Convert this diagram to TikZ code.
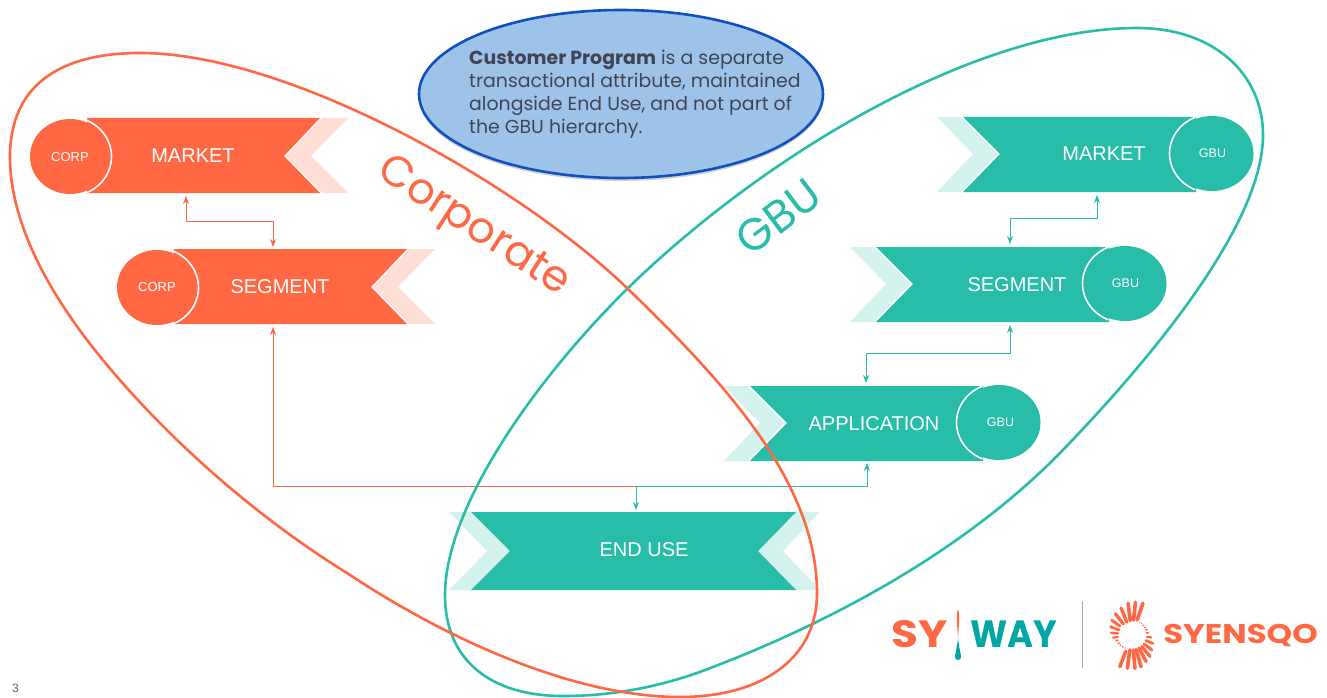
\documentclass[tikz,border=0pt]{standalone}
\usepackage{fontspec}
\setmainfont{Liberation Sans}
\newfontfamily\pop{Poppins}
\usetikzlibrary{arrows.meta,shadows,shapes.geometric}
\definecolor{corp}{HTML}{FF6843}
\definecolor{corplt}{HTML}{FFDED6}
\definecolor{gbu}{HTML}{27BDA9}
\definecolor{gbult}{HTML}{D4F2EE}
\definecolor{ovalfill}{HTML}{9DC3E8}
\definecolor{ovaldraw}{HTML}{1050C0}
\definecolor{inktext}{HTML}{404554}
\definecolor{wayteal}{HTML}{00A7A5}
\tikzset{
 x=1pt,y=-1pt,
 lab/.style={text=white,font=\fontsize{20}{24}\selectfont,inner sep=0pt},
 tag/.style={text=white,font=\fontsize{13}{15}\selectfont,inner sep=0pt},
 tagg/.style={text=white,font=\fontsize{12.5}{15}\selectfont,inner sep=0pt},
 link/.style={line width=1pt,{Stealth[length=8pt,width=6pt]}-{Stealth[length=8pt,width=6pt]}},
 plain/.style={line width=1pt},
 big/.style={line width=2.6pt},
}
\newcommand{\ribR}[2]{%
 \fill[corplt] (#1+235,#2) -- (#1+261,#2) -- (#1+224,#2+38) -- (#1+261,#2+75) -- (#1+235,#2+75) -- (#1+199,#2+38) -- cycle;
 \fill[corp] (#1,#2) -- (#1+233,#2) -- (#1+197,#2+38) -- (#1+233,#2+75) -- (#1,#2+75) -- cycle;
 \fill[corp] (#1-17,#2+38.5) ellipse [x radius=40,y radius=37.5];
 \draw[white,line width=1.6pt] ({#1-17+41.5*cos(66)},{#2+38.5-39.5*sin(66)}) arc [start angle=66,end angle=-66,x radius=41.5,y radius=-39.5];
}
\newcommand{\ribL}[2]{%
 \fill[gbult] (#1-2,#2) -- (#1-26,#2) -- (#1+10,#2+37) -- (#1-26,#2+75) -- (#1-2,#2+75) -- (#1+34,#2+37) -- cycle;
 \fill[gbu] (#1,#2) -- (#1+233,#2) -- (#1+233,#2+75) -- (#1,#2+75) -- (#1+37,#2+37) -- cycle;
 \fill[gbu] (#1+249,#2+36.5) ellipse [x radius=41.5,y radius=37.5];
 \draw[white,line width=1.6pt] ({#1+249+42.5*cos(113)},{#2+36.5-39.5*sin(113)}) arc [start angle=113,end angle=247,x radius=42.5,y radius=-39.5];
}
\begin{document}
\begin{tikzpicture}
\useasboundingbox (0,0) rectangle (1327,698);
\fill[white] (0,0) rectangle (1327,698);
% ribbons
\ribR{87}{118}
\ribR{174}{249}
\ribL{963}{117}
\ribL{876}{247}
\ribL{750}{386}
% end use
\fill[gbult] (449,512) -- (473,512) -- (511,551) -- (473,590) -- (449,590) -- (487,551) -- cycle;
\fill[gbult] (820,512) -- (796,512) -- (758,551) -- (796,590) -- (820,590) -- (783,551) -- cycle;
\fill[gbu] (471,512) -- (796,512) -- (758,551) -- (796,590) -- (471,590) -- (510,551) -- cycle;
% named nodes
\node[lab] (cmarket) at (193,155.5) {MARKET};
\node[tag] (ccorp1) at (70,157) {CORP};
\node[lab] (csegment) at (280,286.5) {SEGMENT};
\node[tag] (ccorp2) at (157,287) {CORP};
\node[lab] (gmarket) at (1104,154) {MARKET};
\node[tagg] (ggbu1) at (1212.5,153.5) {GBU};
\node[lab] (gsegment) at (1017,284.5) {SEGMENT};
\node[tagg] (ggbu2) at (1125.5,283.5) {GBU};
\node[lab] (gapp) at (874,423.5) {APPLICATION};
\node[tagg] (ggbu3) at (1000.5,422.5) {GBU};
\node[lab] (enduse) at (644,549.5) {END USE};
% ports
\coordinate (p1a) at (186,196); \coordinate (p1b) at (273,247);
\coordinate (p2a) at (1097,195); \coordinate (p2b) at (1010,244);
\coordinate (p3a) at (1010,325); \coordinate (p3b) at (866,383);
\coordinate (p4a) at (867,463); \coordinate (p4b) at (636,510);
\coordinate (p5a) at (273,327); \coordinate (p5b) at (636,486.5);
% connectors
\draw[link,corp] (p1a) |- (273,221) -- (p1b);
\draw[link,gbu] (p2a) |- (1010,218) -- (p2b);
\draw[link,gbu] (p3a) |- (866,353) -- (p3b);
\draw[plain,corp,{Stealth[length=8pt,width=6pt]}-] (p5a) |- (p5b);
\draw[link,gbu] (p4a) |- (p5b) -- (p4b);
% big outlines
\draw[big,gbu] (1137,28) .. controls (1215,28) and (1263,75) .. (1263,135)
 .. controls (1263,225) and (1150,360) .. (1060,453)
 .. controls (950,565) and (800,635) .. (697,673)
 .. controls (645,691) and (600,696) .. (563,696)
 .. controls (490,696) and (445,660) .. (445,595)
 .. controls (445,510) and (530,385) .. (628,288)
 .. controls (770,150) and (980,28) .. (1137,28) -- cycle;
\draw[big,corp] (140,53) .. controls (290,53) and (520,185) .. (627,288)
 .. controls (720,378) and (817,480) .. (817,593)
 .. controls (817,660) and (760,697) .. (680,697)
 .. controls (570,697) and (440,635) .. (347,573)
 .. controls (245,510) and (150,422) .. (87,340)
 .. controls (40,278) and (10,215) .. (10,157)
 .. controls (10,85) and (60,53) .. (140,53) -- cycle;
% titles
\node[text=corp,rotate=-33,inner sep=0pt,font=\pop\fontsize{43}{50}\selectfont] (corptitle) at (473,228) {Corporate};
\node[text=gbu,rotate=37,inner sep=0pt,font=\pop\fontsize{45}{50}\selectfont] (gbutitle) at (778,217) {GBU};
% oval
\node[draw=ovaldraw,fill=ovalfill,line width=2.6pt,ellipse,minimum width=404pt,minimum height=168pt,inner sep=0pt,drop shadow={shadow xshift=0pt,shadow yshift=-3pt,opacity=.35}] (oval) at (621,94) {};
\node[anchor=north west,align=left,inner sep=0pt,text=inktext,font=\pop\fontsize{18.9}{23}\selectfont] (ovaltext) at (469,50) {\textbf{Customer Program} is a separate\\transactional attribute, maintained\\alongside End Use, and not part of\\the GBU hierarchy.};
% logos
\node[anchor=west,inner sep=0pt,text=corp,xscale=1.15,font=\pop\bfseries\fontsize{38}{40}\selectfont] (sy) at (891,634) {SY};
\node[anchor=west,inner sep=0pt,text=wayteal,xscale=.93,font=\pop\bfseries\fontsize{38}{40}\selectfont] (way) at (970,634) {WAY};
\fill[corp] (958,610) .. controls (956,611) and (957,625) .. (958,638) .. controls (959,625) and (960,611) .. (958,610) -- cycle;
\fill[wayteal] (958,638) .. controls (957,648) and (955,654) .. (955,657) .. controls (955,661) and (961,661) .. (961,657) .. controls (961,654) and (959,648) .. (958,638) -- cycle;
\draw[line width=1pt,gray!70] (1082,601) -- (1082,668);
\node[anchor=west,inner sep=0pt,text=corp,xscale=1.2,font=\pop\bfseries\fontsize{27}{30}\selectfont] (syensqo) at (1163,636) {SYENSQO};
\foreach \ang/\ra/\rb/\wd in {71/16/33.5/3.6, 84/15/33/3.6, 97/14.5/32/3.6, 112/14/29/3.4, 128/14/27/3.2, 144/15/25/3, 159/14/23/2.8, 174/14/21/2.4, 188/14.5/19/2.2,
 200/15/17/1.6, 212/15/16.5/1.5, 222/15/16/1.4, 232/14.5/15.5/1.3, 242/14.5/15/1.2,
 249/17.6/34/3.6, 262/15/33.7/3.6, 275/15/33.5/3.6, 286/15/33/3.6, 298/15/30/3.4, 310/15/28/3.2, 323/15/25/3, 338/15/22.5/2.8, 353/15/19.5/2.2,
 8/14.5/16.5/1.6, 20/14.5/16/1.5, 30/14.5/15.5/1.4, 40/14.5/15.5/1.3, 50/14.5/15/1.2, 58/14.5/15/1.1}
 \draw[corp,line cap=round,line width=\wd pt] ({1132+\ra*cos(\ang)},{635-\ra*sin(\ang)}) -- ({1132+\rb*cos(\ang)},{635-\rb*sin(\ang)});
\node[anchor=west,inner sep=0pt,text=gray!80!black,font=\fontsize{12}{14}\selectfont] (pagenum) at (12,688) {3};
\end{tikzpicture}
\end{document}
